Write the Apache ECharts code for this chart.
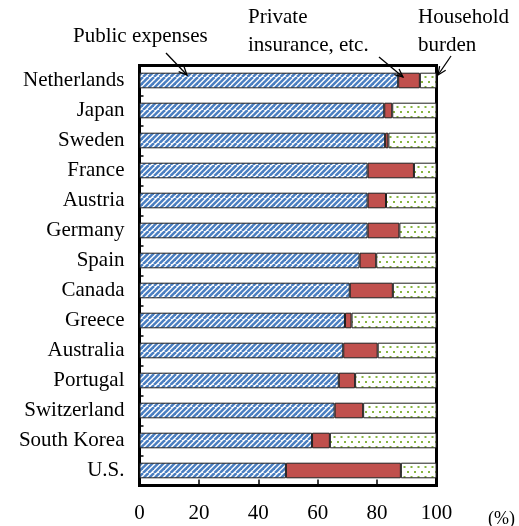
<!DOCTYPE html>
<html>
<head>
<meta charset="utf-8">
<script src="https://cdn.jsdelivr.net/npm/echarts@6/dist/echarts.min.js"></script>
<style>
  html, body { margin: 0; padding: 0; background: #fff; }
  #chart { width: 519px; height: 526px; }
</style>
</head>
<body>
<div id="chart"></div>
<script>
// Share of health expenditure by source of funding (%)
const countries = ['Netherlands', 'Japan', 'Sweden', 'France', 'Austria', 'Germany', 'Spain',
  'Canada', 'Greece', 'Australia', 'Portugal', 'Switzerland', 'South Korea', 'U.S.'];
const publicExpenses = [87.1, 82.4, 82.7, 76.8, 76.8, 76.8, 74.1, 70.8, 69.2, 68.6, 67.1, 65.7, 58.1, 49.3];
const privateInsurance = [7.3, 2.7, 1.1, 15.6, 6.2, 10.7, 5.6, 14.5, 2.2, 11.6, 5.5, 9.6, 6.0, 38.7];
const householdBurden = [5.6, 14.9, 16.2, 7.6, 17.0, 12.5, 20.3, 14.7, 28.6, 19.8, 27.4, 24.7, 35.9, 12.0];
const xTicks = { min: 0, max: 100, interval: 20 };

const FONT = '"Liberation Serif", "Times New Roman", serif';

// Diagonal blue hatching for public expenses
function stripeTile() {
  const s = 11;
  const c = document.createElement('canvas');
  c.width = s; c.height = s;
  const g = c.getContext('2d');
  g.fillStyle = '#ffffff';
  g.fillRect(0, 0, s, s);
  g.strokeStyle = '#4A7EC0';
  g.lineWidth = 2.5;
  for (let a = -s; a <= s; a += s / 2) {
    g.beginPath();
    g.moveTo(a, s);
    g.lineTo(a + s, 0);
    g.stroke();
  }
  return c;
}

// Sparse green dots for household burden
function dotTile() {
  const c = document.createElement('canvas');
  c.width = 14; c.height = 10;
  const g = c.getContext('2d');
  g.fillStyle = '#ffffff';
  g.fillRect(0, 0, 14, 10);
  g.fillStyle = '#86B540';
  [[2, 2], [9, 2], [5.5, 7], [12.5, 7]].forEach(function (p) {
    g.fillRect(p[0] - 1, p[1] - 1, 2, 2);
  });
  return c;
}

const chart = echarts.init(document.getElementById('chart'), null, { renderer: 'canvas' });

function arrow(x1, y1, x2, y2) {
  const ang = Math.atan2(y2 - y1, x2 - x1);
  const len = 9, spread = 0.42;
  const h1 = [x2 - len * Math.cos(ang - spread), y2 - len * Math.sin(ang - spread)];
  const h2 = [x2 - len * Math.cos(ang + spread), y2 - len * Math.sin(ang + spread)];
  return [
    { type: 'line', z: 100, shape: { x1: x1, y1: y1, x2: x2, y2: y2 }, style: { stroke: '#000', lineWidth: 1.3 } },
    { type: 'polyline', z: 100, shape: { points: [h1, [x2, y2], h2] }, style: { stroke: '#000', lineWidth: 1.3, fill: null } }
  ];
}

function label(text, x, y) {
  return {
    type: 'text', z: 100, left: x, top: y - 12,
    style: { text: text, fill: '#000', font: '21px ' + FONT }
  };
}

const barBorder = { borderColor: '#1e1e1e', borderWidth: 1 };

chart.setOption({
  animation: false,
  backgroundColor: '#ffffff',
  grid: {
    left: 139.5, right: 82.5, top: 65.5, bottom: 40.5,
    show: true, borderColor: '#000', borderWidth: 3, backgroundColor: 'transparent'
  },
  xAxis: {
    type: 'value',
    min: xTicks.min, max: xTicks.max, interval: xTicks.interval,
    axisLine: { show: false },
    axisTick: { show: true, inside: true, length: 6, lineStyle: { color: '#000', width: 1.5 } },
    splitLine: { show: false },
    axisLabel: { color: '#000', fontFamily: FONT, fontSize: 21, margin: 17 }
  },
  yAxis: {
    type: 'category',
    inverse: true,
    data: countries,
    axisLine: { show: false },
    axisTick: { show: true, inside: true, length: 4, lineStyle: { color: '#000', width: 1.5 } },
    axisLabel: { color: '#000', fontFamily: FONT, fontSize: 21, margin: 15 }
  },
  series: [
    {
      name: 'Public expenses', type: 'bar', stack: 'total', barWidth: '52%',
      data: publicExpenses,
      itemStyle: Object.assign({ color: { image: stripeTile(), repeat: 'repeat' } }, barBorder)
    },
    {
      name: 'Private insurance, etc.', type: 'bar', stack: 'total', barWidth: '52%',
      data: privateInsurance,
      itemStyle: Object.assign({ color: '#C0504D' }, barBorder)
    },
    {
      name: 'Household burden', type: 'bar', stack: 'total', barWidth: '52%',
      data: householdBurden,
      itemStyle: Object.assign({ color: { image: dotTile(), repeat: 'repeat' } }, barBorder)
    }
  ],
  graphic: [
    label('Public expenses', 73, 38),
    label('Private', 248, 19),
    label('insurance, etc.', 248, 47),
    label('Household', 418, 19),
    label('burden', 418, 47),
    { type: 'text', z: 100, left: 488, top: 510, style: { text: '(%)', fill: '#000', font: '18px ' + FONT } }
  ].concat(arrow(166, 53, 187, 75), arrow(379, 57, 403, 77), arrow(451, 56, 438, 75))
});
</script>
</body>
</html>
